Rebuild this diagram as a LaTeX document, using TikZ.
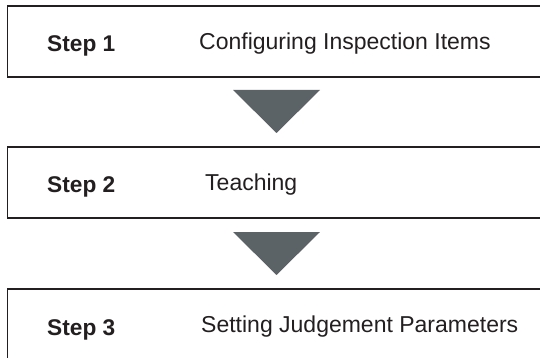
\documentclass[tikz,border=0pt]{standalone}
\usepackage{fontspec}
\setmainfont{Liberation Sans}
\definecolor{boxline}{HTML}{231F20}
\definecolor{arrowgray}{HTML}{5C6366}
\begin{document}
\begin{tikzpicture}[x=1pt,y=-1pt,
  stepbox/.style={draw=boxline, line width=1.6pt, rectangle, minimum width=545pt, minimum height=71pt, anchor=north west, inner sep=0pt, outer sep=0pt},
  steplabel/.style={anchor=base west, font=\fontsize{22.7}{26}\selectfont\bfseries, text=boxline, inner sep=0pt},
  steptext/.style={anchor=base west, font=\fontsize{23}{27}\selectfont, text=boxline, inner sep=0pt},
  downtri/.style={fill=arrowgray, draw=none}]
\useasboundingbox (0,0) rectangle (540,358);
\clip (0,0) rectangle (540,358);
\node[stepbox] (b1) at (7.5,6) {};
\node[stepbox] (b2) at (7.5,147) {};
\node[stepbox] (b3) at (7.5,289) {};
\node[steplabel] (s1) at (47,52) {Step 1};
\node[steptext] (t1) at (199,50) {Configuring Inspection Items};
\node[steplabel] (s2) at (47,193) {Step 2};
\node[steptext] (t2) at (205,190) {Teaching};
\node[steplabel] (s3) at (47,335) {Step 3};
\node[steptext] (t3) at (201,332) {Setting Judgement Parameters};
\fill[downtri] (233,90) -- (320,90) -- (276.5,133) -- cycle;
\fill[downtri] (233,232) -- (320,232) -- (276.5,275) -- cycle;
\end{tikzpicture}
\end{document}
